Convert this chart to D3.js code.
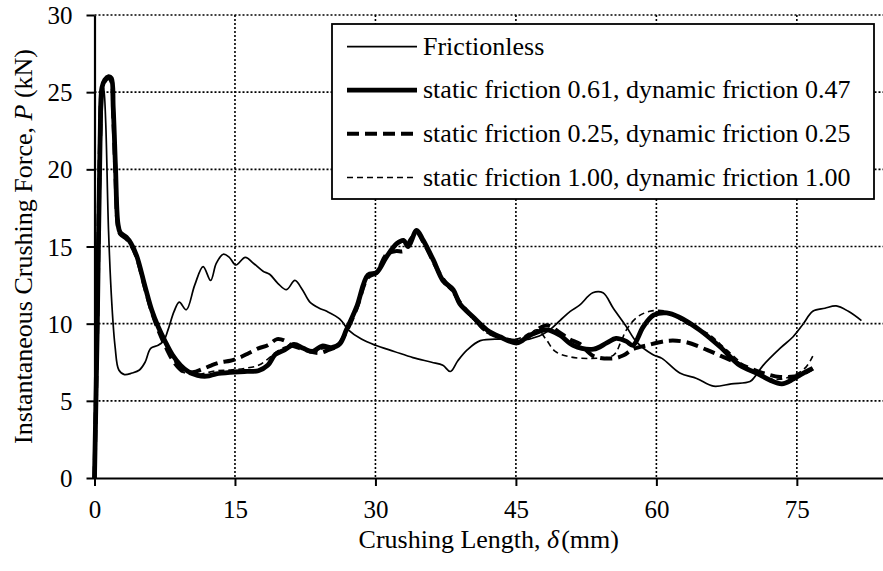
<!DOCTYPE html>
<html>
<head>
<meta charset="utf-8">
<script src="https://cdn.jsdelivr.net/npm/d3@7/dist/d3.min.js"></script>
<style>
  html, body { margin: 0; padding: 0; background: #fff; }
  svg { display: block; }
  text { font-family: "Liberation Serif", "Times New Roman", Times, serif; fill: #000; }
</style>
</head>
<body>
<svg id="chart" width="883" height="571"></svg>
<script>
// Crushing length (mm) and instantaneous crushing force (kN) for each friction case
const deltaFrictionless = [0, 0.4, 0.8, 1.0, 1.2, 1.5, 1.85, 2.2, 2.6, 3.2, 4.0, 4.8, 5.4, 6.0, 6.8, 7.4, 7.85, 8.5, 9.05, 9.8, 10.7, 11.6, 12.4, 13.0, 13.75, 14.4, 15.1, 16.1, 17.0, 18.0, 18.7, 19.6, 20.5, 21.4, 22.2, 23.0, 24.0, 24.8, 26.2, 27.1, 28.5, 30, 32, 34, 36, 37.2, 38.0, 38.8, 39.8, 41.2, 43.3, 45.4, 47.5, 48.6, 49.7, 50.8, 51.8, 53.2, 54.3, 55.4, 56.8, 57.9, 59.6, 60.6, 62.5, 64.3, 66.1, 68, 70.0, 70.5, 71.4, 73.2, 74.6, 75.7, 76.7, 78, 79.2, 80.5, 81.9];
const forceFrictionless = [0, 12, 23.5, 25.3, 23, 16, 11.3, 8.5, 7.0, 6.7, 6.8, 7.0, 7.5, 8.4, 8.6, 8.9, 9.6, 10.8, 11.4, 10.9, 12.5, 13.7, 12.8, 13.9, 14.5, 14.3, 13.8, 14.3, 13.9, 13.4, 13.2, 12.6, 12.2, 12.8, 12.2, 11.4, 11.0, 10.8, 10.3, 9.6, 9.0, 8.6, 8.2, 7.8, 7.5, 7.3, 6.9, 7.6, 8.3, 8.9, 9.0, 8.9, 9.2, 9.6, 10.2, 10.8, 11.2, 12.0, 12.0, 11.0, 9.8, 8.8, 8.0, 7.75, 6.8, 6.45, 5.95, 6.1, 6.25, 6.55, 7.3, 8.4, 9.15, 10.0, 10.8, 11.0, 11.15, 10.8, 10.2];

const deltaS061 = [0, 0.3, 0.6, 0.8, 1.1, 1.5, 1.8, 2.0, 2.25, 2.5, 2.75, 3.4, 3.9, 4.5, 5.4, 6.1, 6.8, 7.5, 8.3, 9.2, 10.0, 11.0, 12.0, 13.0, 14.5, 16.0, 17.5, 18.5, 19.3, 20.3, 21.3, 22.3, 23.3, 24.3, 25.3, 26.2, 26.9, 28.0, 29.2, 30.1, 31.2, 32.3, 33.0, 33.5, 34.4, 35.1, 36.2, 37.2, 38.3, 39.0, 40.4, 41.9, 43.3, 45.1, 46.5, 48.3, 49.7, 51.1, 53.3, 54.7, 55.7, 56.8, 57.5, 58.6, 59.7, 61.1, 62.5, 64.6, 66.8, 68.9, 70.7, 72.1, 73.4, 74.6, 75.7, 76.7];
const forceS061 = [0, 10, 22, 25.3, 25.8, 26.0, 25.9, 24, 20, 16.5, 15.9, 15.6, 15.2, 14.4, 12.4, 10.9, 9.8, 8.9, 8.0, 7.3, 6.9, 6.65, 6.6, 6.75, 6.85, 6.9, 6.95, 7.3, 8.0, 8.3, 8.65, 8.4, 8.2, 8.55, 8.45, 8.7, 9.6, 11.1, 13.15, 13.3, 14.35, 15.2, 15.4, 15.0, 16.05, 15.4, 14.1, 12.8, 12.2, 11.3, 10.45, 9.6, 9.15, 8.75, 9.25, 9.6, 9.25, 8.6, 8.35, 8.75, 9.05, 8.85, 8.6, 9.8, 10.55, 10.7, 10.4, 9.6, 8.5, 7.3, 6.8, 6.35, 6.1, 6.4, 6.8, 7.1];

const deltaS025 = [0, 0.3, 0.6, 0.8, 1.1, 1.5, 1.8, 2.0, 2.25, 2.5, 2.75, 3.4, 3.9, 4.5, 5.4, 6.1, 6.8, 7.6, 8.5, 9.5, 10.5, 11.5, 12.5, 13.5, 14.5, 15.5, 16.5, 17.5, 18.5, 19.5, 20.3, 21.0, 22.0, 23.0, 24.0, 25.0, 26.0, 26.9, 28.0, 29.2, 30.1, 31.2, 32.2, 33.0, 33.8, 34.4, 35.1, 36.2, 37.2, 38.3, 39.0, 40.4, 41.9, 43.3, 45.1, 46.4, 47.5, 48.3, 49.5, 50.7, 51.8, 53.3, 55.4, 56.5, 57.5, 59.0, 61.4, 63.2, 65.4, 67.5, 69.6, 71.4, 73.2, 75.3, 76.7];
const forceS025 = [0, 10, 22, 25.2, 25.7, 25.9, 25.7, 23.5, 19.5, 16.3, 15.8, 15.5, 15.1, 14.3, 12.3, 10.8, 9.6, 8.5, 7.5, 6.9, 6.85, 7.05, 7.3, 7.5, 7.6, 7.8, 8.1, 8.4, 8.6, 9.0, 8.9, 8.6, 8.4, 8.2, 8.1, 8.3, 8.6, 9.5, 11.0, 13.0, 13.3, 14.5, 14.7, 14.7, 15.5, 15.9, 15.3, 14.0, 12.9, 12.1, 11.4, 10.4, 9.5, 9.1, 8.9, 9.2, 9.7, 9.9, 9.5, 9.0, 8.7, 7.9, 7.75, 7.95, 8.35, 8.6, 8.9, 8.8, 8.3, 7.75, 7.2, 6.8, 6.55, 6.65, 7.1];

const deltaS100 = [0, 0.3, 0.6, 0.8, 1.1, 1.5, 1.8, 2.0, 2.25, 2.5, 2.75, 3.4, 3.9, 4.5, 5.4, 6.1, 6.8, 7.6, 8.5, 9.5, 10.5, 11.5, 13.0, 14.5, 16.0, 17.5, 18.5, 19.5, 20.5, 21.5, 22.5, 23.5, 24.5, 25.5, 26.3, 27.0, 28.0, 29.2, 30.1, 31.2, 32.3, 33.0, 33.6, 34.4, 35.1, 36.2, 37.2, 38.3, 39.0, 40.4, 41.9, 43.3, 45.1, 46.5, 47.3, 48.2, 49.2, 50.8, 52.9, 55.4, 56.2, 56.8, 57.9, 59.3, 61.1, 63.2, 65.4, 67.5, 69.6, 71.4, 73.2, 75.0, 76.0, 76.7];
const forceS100 = [0, 10, 22, 25.2, 25.7, 25.9, 25.7, 23.5, 19.5, 16.3, 15.8, 15.5, 15.1, 14.3, 12.3, 10.8, 9.7, 8.6, 7.6, 6.85, 6.7, 6.75, 6.95, 7.0, 7.1, 7.3, 7.7, 8.2, 8.5, 8.5, 8.3, 8.2, 8.4, 8.5, 8.8, 9.7, 11.1, 13.1, 13.35, 14.3, 15.1, 15.3, 15.1, 15.95, 15.3, 14.0, 12.7, 12.0, 11.2, 10.3, 9.4, 9.1, 9.0, 9.4, 9.6, 9.0, 8.2, 7.85, 7.75, 7.95, 8.8, 9.6, 10.4, 10.8, 10.8, 10.0, 9.4, 8.3, 7.2, 6.55, 6.4, 6.75, 7.2, 7.9];

const seriesNames = [
  "Frictionless",
  "static friction 0.61, dynamic friction 0.47",
  "static friction 0.25, dynamic friction 0.25",
  "static friction 1.00, dynamic friction 1.00"
];
const xTicks = [0, 15, 30, 45, 60, 75];
const yTicks = [0, 5, 10, 15, 20, 25, 30];

const series = [
  { name: seriesNames[0], x: deltaFrictionless, y: forceFrictionless, width: 1.7, dash: null },
  { name: seriesNames[1], x: deltaS061, y: forceS061, width: 4.8, dash: null },
  { name: seriesNames[2], x: deltaS025, y: forceS025, width: 4, dash: "12,6" },
  { name: seriesNames[3], x: deltaS100, y: forceS100, width: 1.6, dash: "6,4" }
];

const svg = d3.select("#chart");
const plotLeft = 94.5, plotRight = 883, plotTop = 15, plotBottom = 478;

const x = d3.scaleLinear().domain([0, 84.2]).range([plotLeft, plotRight]);
const y = d3.scaleLinear().domain([0, 30]).range([plotBottom, plotTop]);

// dotted grid
const grid = svg.append("g").attr("stroke", "#000").attr("stroke-width", 1.6)
  .attr("stroke-dasharray", "2,2").attr("fill", "none");
yTicks.filter(d => d > 0).forEach(d => {
  grid.append("line").attr("x1", plotLeft).attr("x2", plotRight).attr("y1", y(d)).attr("y2", y(d));
});
xTicks.filter(d => d > 0).forEach(d => {
  grid.append("line").attr("x1", x(d)).attr("x2", x(d)).attr("y1", plotTop).attr("y2", plotBottom);
});

// curves
const line = d3.line().curve(d3.curveCatmullRom.alpha(0.5));
const curves = svg.append("g").attr("fill", "none");
series.slice().reverse().forEach(s => {
  const pts = s.x.map((d, i) => [x(d), y(s.y[i])]);
  curves.append("path")
    .attr("d", line(pts))
    .attr("stroke", "#000")
    .attr("stroke-width", s.width)
    .attr("stroke-linejoin", "round")
    .attr("stroke-dasharray", s.dash);
});

// axes
const xAxis = d3.axisBottom(x).tickValues(xTicks).tickSize(8).tickSizeOuter(0).tickFormat(d3.format("d"));
const gx = svg.append("g").attr("transform", `translate(0,${plotBottom})`).call(xAxis);
gx.select(".domain").attr("stroke-width", 2.2);
gx.selectAll(".tick line").attr("stroke-width", 2);
gx.selectAll(".tick text").attr("y", 40).attr("dy", null).attr("font-size", 25)
  .style("font-family", "'Liberation Serif', 'Times New Roman', serif");

const yAxis = d3.axisLeft(y).tickValues(yTicks).tickSize(8).tickSizeOuter(0).tickPadding(14);
const gy = svg.append("g").attr("transform", `translate(${plotLeft},0)`).call(yAxis);
gy.select(".domain").attr("stroke-width", 2.2);
gy.selectAll(".tick line").attr("stroke-width", 2);
gy.selectAll(".tick text").attr("font-size", 25).attr("dy", "0.34em")
  .style("font-family", "'Liberation Serif', 'Times New Roman', serif");

// axis titles
const xt = svg.append("text").attr("x", (plotLeft + plotRight) / 2).attr("y", 548)
  .attr("text-anchor", "middle").attr("font-size", 26);
xt.append("tspan").text("Crushing Length, ");
xt.append("tspan").attr("font-style", "italic").text("\u03b4");
xt.append("tspan").attr("dx", 2).text("(mm)");

const yt = svg.append("text")
  .attr("transform", `translate(32,${(plotTop + plotBottom) / 2}) rotate(-90)`)
  .attr("text-anchor", "middle").attr("font-size", 26);
yt.append("tspan").text("Instantaneous Crushing Force, ");
yt.append("tspan").attr("font-style", "italic").text("P");
yt.append("tspan").text(" (kN)");

// legend
const lg = svg.append("g");
lg.append("rect").attr("x", 332).attr("y", 24).attr("width", 542).attr("height", 175)
  .attr("fill", "#fff").attr("stroke", "#000").attr("stroke-width", 1.8);
const rowY = [46.7, 90.2, 133.7, 177.5];
series.forEach((s, i) => {
  lg.append("line").attr("x1", 347).attr("x2", 417).attr("y1", rowY[i]).attr("y2", rowY[i])
    .attr("stroke", "#000").attr("stroke-width", s.width).attr("stroke-dasharray", s.dash);
  lg.append("text").attr("x", 423).attr("y", rowY[i] + 8).attr("font-size", 26).text(s.name);
});
</script>
</body>
</html>
